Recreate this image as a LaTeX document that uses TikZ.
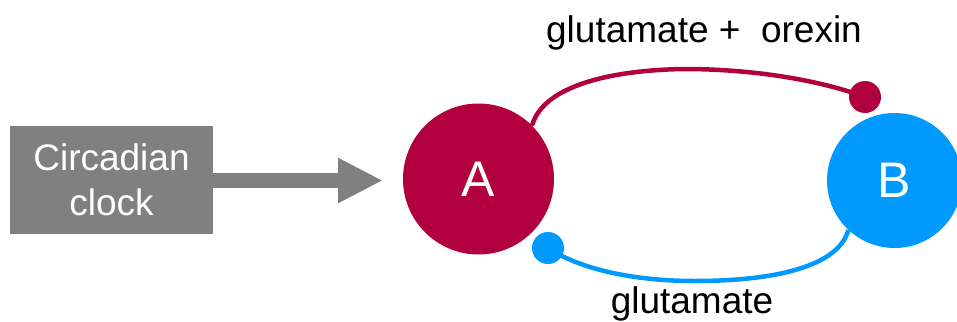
\documentclass[tikz,border=0pt]{standalone}
\usepackage{fontspec}
\setmainfont{Liberation Sans}
\usetikzlibrary{arrows.meta}
\definecolor{crim}{RGB}{178,0,62}
\definecolor{sky}{RGB}{0,153,255}
\definecolor{boxgray}{RGB}{128,128,128}
\tikzset{
  cell/.style={circle,inner sep=0pt,text=white,font=\fontsize{50}{60}\selectfont},
  dot/.style={circle,inner sep=0pt,minimum size=32pt},
  lbl/.style={anchor=base,text=black,font=\fontsize{37}{44}\selectfont},
  link/.style={line width=4.5pt},
}
\begin{document}
\begin{tikzpicture}[x=1pt,y=-1pt]
\useasboundingbox (0,0) rectangle (957,321);
\node[rectangle,fill=boxgray,minimum width=203pt,minimum height=108pt,inner sep=0pt,
      text=white,align=center,font=\fontsize{37}{45}\selectfont] (clock) at (111.5,179.5)
      {Circadian\\clock};
\coordinate (tip) at (383,180.5);
\draw[boxgray,line width=15pt,-{Triangle[length=45pt,width=42pt]}] (clock.east |- tip) -- (tip);
\node[cell,fill=crim,minimum size=151pt] (A) at (478.5,179) {A};
\node[cell,fill=sky,minimum size=135pt] (B) at (894.5,180.5) {B};
\node[dot,fill=crim] (d1) at (865,97) {};
\node[dot,fill=sky] (d2) at (548,248) {};
\draw[crim,link] (A.45) .. controls (545,80) and (630,69) .. (690,69)
  .. controls (770,70) and (830,84) .. (d1.center);
\draw[sky,link] (B.-133) .. controls (838,268) and (770,281) .. (695,281)
  .. controls (625,281) and (575,266) .. (d2.center);
\node[lbl] (top) at (704,42) {glutamate + \ orexin};
\node[lbl] (bot) at (692,313) {glutamate};
\end{tikzpicture}
\end{document}
